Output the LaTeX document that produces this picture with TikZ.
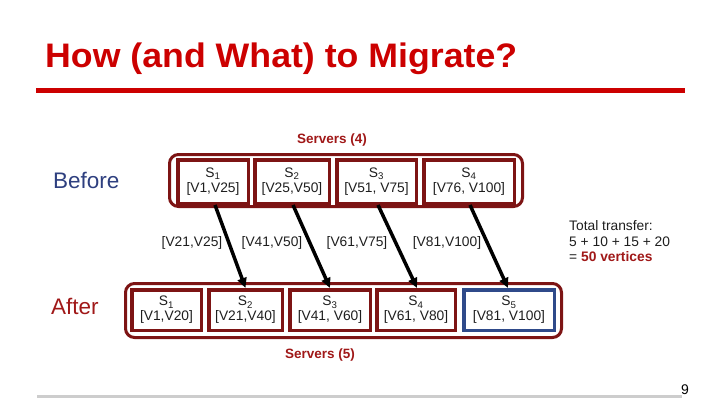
\documentclass[tikz,border=0pt]{standalone}
\usepackage{fontspec}
\setmainfont{Liberation Sans}
\usetikzlibrary{arrows.meta}
\definecolor{titlered}{RGB}{204,0,0}
\definecolor{maroon}{RGB}{125,20,20}
\definecolor{labred}{RGB}{160,24,24}
\definecolor{navy}{RGB}{46,63,127}
\definecolor{boxblue}{RGB}{47,74,138}
\definecolor{txt}{RGB}{30,30,30}
\definecolor{footgray}{RGB}{205,205,205}
\tikzset{
  srv/.style={draw=maroon, line width=3.5pt, inner sep=0pt, align=center,
    text=txt, font=\fontsize{13.8}{16}\selectfont},
  outerbox/.style={draw=maroon, line width=3pt, rounded corners=9pt, inner sep=0pt},
  mig/.style={line width=3.5pt, -{Triangle[length=10pt,width=9pt]}},
  rng/.style={inner sep=0pt, text=txt, font=\fontsize{13.8}{16}\selectfont},
  grp/.style={inner sep=0pt, text=labred, font=\bfseries\fontsize{13.5}{16}\selectfont},
}
\begin{document}
\begin{tikzpicture}[x=1pt,y=-1pt]
\useasboundingbox (0,0) rectangle (720,405);
% title
\node[anchor=base west, inner sep=0pt, text=titlered, font=\bfseries\fontsize{34}{40}\selectfont] (title) at (45,67) {\scalebox{1.05}[1]{How (and What) to Migrate?}};
\coordinate (tl1) at (36,90);
\coordinate (tl2) at (685,90);
\draw[titlered, line width=5pt] (tl1) -- (tl2);
% footer
\coordinate (fl1) at (37,396);
\coordinate (fl2) at (682,396);
\draw[footgray, line width=3pt] (fl1) -- (fl2);
\node[inner sep=0pt, font=\fontsize{14}{16}\selectfont] (pg) at (685,390) {9};
% labels
\node[anchor=west, inner sep=0pt, text=navy, font=\fontsize{22.5}{26}\selectfont] (before) at (53,180) {Before};
\node[anchor=west, inner sep=0pt, text=labred, font=\fontsize{22.5}{26}\selectfont] (after) at (51,306) {After};
% top servers
\node[grp] (g4) at (332,140) {Servers (4)};
\node[outerbox, minimum width=353pt, minimum height=52pt] (otop) at (346,180.5) {};
\node[srv, minimum width=70.5pt, minimum height=43.5pt] (t1) at (213,181.5) {S\textsubscript{1}\\[-1pt][V1,V25]};
\node[srv, minimum width=74.5pt, minimum height=43.5pt] (t2) at (292,181.5) {S\textsubscript{2}\\[-1pt][V25,V50]};
\node[srv, minimum width=79.5pt, minimum height=43.5pt] (t3) at (376.5,181.5) {S\textsubscript{3}\\[-1pt][V51, V75]};
\node[srv, minimum width=90.5pt, minimum height=43.5pt] (t4) at (469,181.5) {S\textsubscript{4}\\[-1pt][V76, V100]};
% bottom servers
\node[outerbox, minimum width=436pt, minimum height=54pt] (obot) at (343.5,310.5) {};
\node[srv, minimum width=69.5pt, minimum height=40.5pt] (b1) at (166.5,310) {S\textsubscript{1}\\[-1pt][V1,V20]};
\node[srv, minimum width=73.5pt, minimum height=40.5pt] (b2) at (245.5,310) {S\textsubscript{2}\\[-1pt][V21,V40]};
\node[srv, minimum width=80.5pt, minimum height=40.5pt] (b3) at (330,310) {S\textsubscript{3}\\[-1pt][V41, V60]};
\node[srv, minimum width=78.5pt, minimum height=40.5pt] (b4) at (416,310) {S\textsubscript{4}\\[-1pt][V61, V80]};
\node[srv, draw=boxblue, minimum width=90.5pt, minimum height=40.5pt] (b5) at (509,310) {S\textsubscript{5}\\[-1pt][V81, V100]};
\node[grp] (g5) at (320,355) {Servers (5)};
% migrations
\draw[mig] ([xshift=2pt]t1.south) -- (b2.north);
\draw[mig] ([xshift=1pt]t2.south) -- (b3.north);
\draw[mig] ([xshift=1.5pt]t3.south) -- ([xshift=1pt]b4.north);
\draw[mig] ([xshift=1pt]t4.south) -- ([xshift=-1pt]b5.north);
\node[rng] (r1) at (192,243) {[V21,V25]};
\node[rng] (r2) at (272,243) {[V41,V50]};
\node[rng] (r3) at (357,243) {[V61,V75]};
\node[rng] (r4) at (447,243) {[V81,V100]};
% total
\node[anchor=west, inner sep=0pt, align=left, text=txt, font=\fontsize{13.8}{15.5}\selectfont] (total) at (569,241.5)
  {Total transfer:\\5 + 10 + 15 + 20\\= {\bfseries\color{labred}50 vertices}};
\end{tikzpicture}
\end{document}
